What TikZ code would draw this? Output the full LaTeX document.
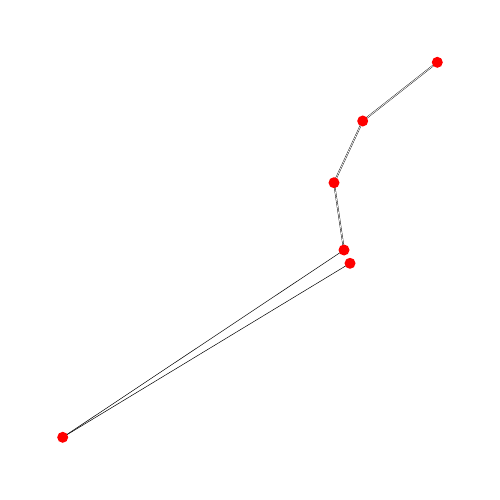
\documentclass[tikz,border=0pt]{standalone}
\usetikzlibrary{backgrounds}
\begin{document}
\begin{tikzpicture}[x=1pt,y=-1pt,
  vtx/.style={circle,fill=red,draw=none,minimum size=11pt,inner sep=0pt},
  dbl/.style={draw=black,line width=0.4pt,double=white,double distance=0.7pt},
  sgl/.style={draw=black,line width=0.5pt}]
\useasboundingbox (0,0) rectangle (500,500);
\node[vtx] (a) at (437.3,62.3) {};
\node[vtx] (b) at (362.7,121) {};
\node[vtx] (c) at (334,182.7) {};
\node[vtx] (d) at (344,250) {};
\node[vtx] (e) at (350,263.3) {};
\node[vtx] (f) at (62.7,437.3) {};
\begin{scope}[on background layer]
\draw[dbl] (a.center) -- (b.center);
\draw[dbl] (b.center) -- (c.center);
\draw[dbl] (c.center) -- (d.center);
\draw[sgl] (d.center) -- (f.center);
\draw[sgl] (e.center) -- (f.center);
\end{scope}
\end{tikzpicture}
\end{document}
